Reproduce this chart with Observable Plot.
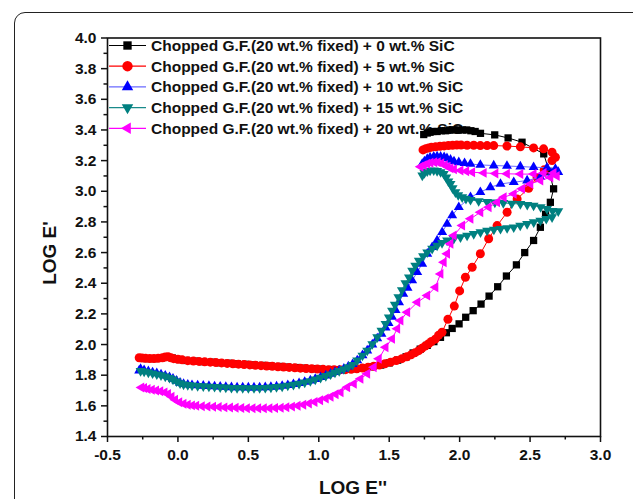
<!DOCTYPE html>
<html>
<head>
<meta charset="utf-8">
<script src="https://cdn.jsdelivr.net/npm/d3@7"></script>
<script src="https://cdn.jsdelivr.net/npm/@observablehq/plot@0.6"></script>
<style>
  body { margin: 0; background: #fff; }
  #wrap { position: relative; width: 633px; height: 499px; overflow: hidden; background: #fff;
          font-family: "Liberation Sans", Arial, sans-serif; }
  #box { position: absolute; left: 14px; top: 12px; width: 700px; height: 600px;
         border: 1.8px solid #222; border-radius: 11px; box-sizing: border-box; }
  #legend, #chart { position: absolute; left: 0; top: 0; }
  .ttl { position: absolute; font-weight: bold; font-size: 19px; color: #111; white-space: nowrap; }
</style>
</head>
<body>
<div id="wrap">
  <div id="box"></div>
  <div id="legend"></div>
  <div id="chart"></div>
  <div class="ttl" id="xt" style="left:353px; top:488px; transform:translate(-50%,-50%);">LOG E''</div>
  <div class="ttl" id="yt" style="left:50px; top:253px; transform:translate(-50%,-50%) rotate(-90deg);">LOG E'</div>
</div>
<script>
// ---------- data (LOG E'' , LOG E') ----------
const seriesNames = [
  "Chopped G.F.(20 wt.% fixed) + 0 wt.% SiC",
  "Chopped G.F.(20 wt.% fixed) + 5 wt.% SiC",
  "Chopped G.F.(20 wt.% fixed) + 10 wt.% SiC",
  "Chopped G.F.(20 wt.% fixed) + 15 wt.% SiC",
  "Chopped G.F.(20 wt.% fixed) + 20 wt.% SiC"
];
const seriesColors = ["#000000", "#ff0000", "#0000ff", "#008080", "#ff00ff"];
const lineColors = ["#000000", "#ff0000", "#6a6aff", "#1a8a8a", "#ff00ff"];

const sic0 = [[1.745,3.37],[1.77,3.38],[1.79,3.385],[1.81,3.39],[1.84,3.39],[1.87,3.395],[1.90,3.395],[1.93,3.40],[1.96,3.40],[1.99,3.40],[2.02,3.40],[2.05,3.40],[2.08,3.395],[2.11,3.39],[2.148,3.378],[2.249,3.368],[2.344,3.348],[2.443,3.32],[2.597,3.244],[2.635,3.13],[2.667,3.016],[2.644,2.928],[2.61,2.85],[2.573,2.765],[2.525,2.679],[2.462,2.60],[2.403,2.52],[2.332,2.447],[2.27,2.377],[2.209,2.316],[2.152,2.264],[2.096,2.221],[2.043,2.178],[1.996,2.135],[1.947,2.105],[1.906,2.077],[1.864,2.047],[1.817,2.019],[1.77,1.995],[1.72,1.97],[1.67,1.945],[1.62,1.92],[1.56,1.898],[1.50,1.88],[1.44,1.866],[1.38,1.855],[1.32,1.848],[1.26,1.842],[1.20,1.838],[1.14,1.836],[1.08,1.837],[1.02,1.84],[0.96,1.843],[0.90,1.846],[0.84,1.85],[0.78,1.853],[0.72,1.857],[0.66,1.86],[0.60,1.864],[0.54,1.867],[0.48,1.871],[0.42,1.874],[0.36,1.878],[0.30,1.881],[0.24,1.885],[0.18,1.888],[0.12,1.892],[0.06,1.896],[0.01,1.902],[-0.04,1.912],[-0.08,1.92],[-0.12,1.912],[-0.17,1.908],[-0.22,1.908],[-0.26,1.91]];

const sic5 = [[1.74,3.27],[1.76,3.278],[1.78,3.283],[1.80,3.288],[1.83,3.29],[1.86,3.293],[1.89,3.296],[1.92,3.298],[1.95,3.30],[1.98,3.302],[2.01,3.302],[2.053,3.30],[2.10,3.30],[2.147,3.298],[2.195,3.298],[2.242,3.298],[2.336,3.295],[2.431,3.29],[2.525,3.283],[2.596,3.277],[2.656,3.255],[2.68,3.222],[2.656,3.20],[2.60,3.14],[2.55,3.09],[2.49,3.02],[2.408,2.95],[2.337,2.863],[2.266,2.776],[2.206,2.69],[2.147,2.592],[2.089,2.504],[2.041,2.439],[2.0,2.35],[1.962,2.251],[1.917,2.165],[1.875,2.08],[1.85,2.06],[1.827,2.035],[1.80,2.02],[1.78,2.005],[1.755,1.99],[1.732,1.975],[1.71,1.96],[1.684,1.947],[1.655,1.933],[1.625,1.92],[1.59,1.908],[1.55,1.896],[1.51,1.885],[1.47,1.875],[1.43,1.866],[1.39,1.858],[1.35,1.852],[1.31,1.847],[1.27,1.842],[1.23,1.838],[1.19,1.836],[1.15,1.835],[1.11,1.835],[1.07,1.836],[1.03,1.838],[0.99,1.84],[0.95,1.842],[0.91,1.844],[0.87,1.846],[0.83,1.848],[0.79,1.851],[0.75,1.853],[0.71,1.855],[0.67,1.858],[0.63,1.86],[0.59,1.862],[0.55,1.865],[0.51,1.867],[0.47,1.87],[0.43,1.872],[0.39,1.875],[0.35,1.877],[0.31,1.88],[0.27,1.882],[0.23,1.885],[0.19,1.887],[0.15,1.89],[0.11,1.892],[0.07,1.895],[0.03,1.90],[0.0,1.904],[-0.03,1.908],[-0.05,1.914],[-0.07,1.921],[-0.09,1.918],[-0.11,1.913],[-0.14,1.91],[-0.17,1.909],[-0.20,1.909],[-0.23,1.91],[-0.255,1.912],[-0.275,1.914]];

const sic10 = [[1.734,3.178],[1.75,3.195],[1.77,3.21],[1.79,3.22],[1.816,3.225],[1.84,3.227],[1.865,3.225],[1.89,3.222],[1.91,3.215],[1.935,3.205],[1.96,3.195],[1.994,3.189],[2.035,3.183],[2.077,3.178],[2.147,3.172],[2.242,3.168],[2.336,3.165],[2.431,3.161],[2.525,3.157],[2.62,3.154],[2.68,3.146],[2.70,3.125],[2.656,3.114],[2.573,3.092],[2.479,3.07],[2.384,3.059],[2.29,3.048],[2.218,3.026],[2.147,2.994],[2.077,2.961],[1.994,2.896],[1.947,2.842],[1.911,2.787],[1.876,2.733],[1.84,2.679],[1.805,2.635],[1.77,2.592],[1.734,2.527],[1.699,2.472],[1.663,2.418],[1.63,2.37],[1.60,2.33],[1.57,2.275],[1.545,2.225],[1.52,2.18],[1.495,2.14],[1.474,2.11],[1.445,2.07],[1.415,2.04],[1.38,2.0],[1.344,1.961],[1.31,1.93],[1.273,1.896],[1.24,1.872],[1.21,1.856],[1.178,1.842],[1.145,1.83],[1.115,1.82],[1.084,1.809],[1.05,1.798],[1.013,1.787],[0.975,1.775],[0.94,1.765],[0.90,1.756],[0.86,1.748],[0.82,1.741],[0.78,1.735],[0.74,1.73],[0.70,1.726],[0.66,1.723],[0.62,1.721],[0.58,1.72],[0.54,1.719],[0.50,1.719],[0.46,1.72],[0.42,1.72],[0.38,1.721],[0.34,1.723],[0.30,1.725],[0.26,1.727],[0.22,1.729],[0.18,1.731],[0.14,1.733],[0.10,1.735],[0.07,1.738],[0.04,1.742],[0.015,1.75],[-0.01,1.763],[-0.035,1.776],[-0.06,1.787],[-0.09,1.797],[-0.12,1.805],[-0.15,1.812],[-0.18,1.818],[-0.21,1.825],[-0.24,1.832],[-0.265,1.84],[-0.275,1.83]];

const sic15 = [[1.735,3.103],[1.75,3.12],[1.77,3.13],[1.79,3.135],[1.816,3.137],[1.84,3.133],[1.865,3.125],[1.887,3.114],[1.905,3.09],[1.92,3.065],[1.935,3.048],[1.95,3.02],[1.97,2.994],[1.99,2.975],[2.018,2.961],[2.045,2.952],[2.077,2.944],[2.135,2.936],[2.195,2.93],[2.25,2.927],[2.31,2.924],[2.37,2.92],[2.431,2.917],[2.48,2.912],[2.525,2.907],[2.575,2.897],[2.62,2.885],[2.66,2.872],[2.70,2.87],[2.656,2.831],[2.615,2.82],[2.573,2.809],[2.526,2.798],[2.479,2.787],[2.43,2.776],[2.384,2.765],[2.337,2.76],[2.29,2.755],[2.243,2.75],[2.195,2.744],[2.148,2.733],[2.10,2.722],[2.053,2.711],[2.006,2.70],[1.958,2.69],[1.911,2.679],[1.875,2.663],[1.84,2.646],[1.805,2.625],[1.77,2.602],[1.74,2.577],[1.71,2.548],[1.685,2.515],[1.663,2.483],[1.64,2.439],[1.615,2.40],[1.59,2.355],[1.565,2.31],[1.54,2.26],[1.52,2.222],[1.497,2.178],[1.474,2.135],[1.445,2.09],[1.415,2.048],[1.38,2.003],[1.344,1.961],[1.31,1.928],[1.273,1.896],[1.24,1.868],[1.21,1.853],[1.178,1.84],[1.145,1.828],[1.115,1.817],[1.084,1.806],[1.05,1.795],[1.013,1.784],[0.975,1.772],[0.94,1.762],[0.90,1.753],[0.86,1.745],[0.82,1.738],[0.78,1.732],[0.74,1.727],[0.70,1.723],[0.66,1.72],[0.62,1.718],[0.58,1.717],[0.54,1.716],[0.50,1.716],[0.46,1.717],[0.42,1.717],[0.38,1.718],[0.34,1.72],[0.30,1.722],[0.26,1.724],[0.22,1.726],[0.18,1.728],[0.14,1.73],[0.10,1.733],[0.07,1.736],[0.04,1.74],[0.015,1.748],[-0.01,1.76],[-0.035,1.772],[-0.06,1.783],[-0.09,1.792],[-0.12,1.80],[-0.15,1.806],[-0.18,1.812],[-0.21,1.818],[-0.24,1.824],[-0.265,1.828]];

const sic20 = [[1.722,3.16],[1.745,3.17],[1.77,3.18],[1.793,3.186],[1.82,3.19],[1.845,3.19],[1.87,3.183],[1.895,3.172],[1.915,3.16],[1.935,3.15],[1.96,3.143],[2.006,3.135],[2.047,3.13],[2.089,3.124],[2.171,3.12],[2.254,3.116],[2.336,3.114],[2.431,3.112],[2.525,3.112],[2.596,3.12],[2.667,3.12],[2.69,3.10],[2.644,3.09],[2.573,3.07],[2.502,3.048],[2.443,3.016],[2.384,2.983],[2.313,2.961],[2.266,2.928],[2.206,2.896],[2.147,2.863],[2.077,2.82],[2.018,2.776],[1.958,2.711],[1.935,2.657],[1.911,2.592],[1.887,2.537],[1.864,2.461],[1.828,2.374],[1.77,2.32],[1.70,2.276],[1.628,2.211],[1.58,2.157],[1.557,2.103],[1.52,2.037],[1.474,1.982],[1.426,1.907],[1.39,1.852],[1.344,1.809],[1.296,1.776],[1.249,1.744],[1.202,1.722],[1.155,1.689],[1.12,1.675],[1.084,1.66],[1.05,1.648],[1.01,1.636],[0.97,1.625],[0.93,1.615],[0.89,1.607],[0.85,1.60],[0.81,1.595],[0.77,1.591],[0.73,1.588],[0.69,1.586],[0.65,1.585],[0.61,1.584],[0.57,1.584],[0.53,1.584],[0.49,1.585],[0.45,1.586],[0.41,1.587],[0.37,1.589],[0.33,1.59],[0.29,1.592],[0.25,1.594],[0.21,1.596],[0.17,1.598],[0.13,1.60],[0.10,1.603],[0.07,1.607],[0.04,1.614],[0.01,1.624],[-0.02,1.64],[-0.045,1.66],[-0.07,1.677],[-0.095,1.688],[-0.125,1.695],[-0.155,1.70],[-0.185,1.705],[-0.215,1.71],[-0.24,1.716],[-0.26,1.72]];

const xTicks = [-0.5, 0.0, 0.5, 1.0, 1.5, 2.0, 2.5, 3.0];
const xTickLabels = ["-0.5", "0.0", "0.5", "1.0", "1.5", "2.0", "2.5", "3.0"];
const xMinor = [-0.25, 0.25, 0.75, 1.25, 1.75, 2.25, 2.75];
const yTicks = [1.4, 1.6, 1.8, 2.0, 2.2, 2.4, 2.6, 2.8, 3.0, 3.2, 3.4, 3.6, 3.8, 4.0];
const yTickLabels = ["1.4", "1.6", "1.8", "2.0", "2.2", "2.4", "2.6", "2.8", "3.0", "3.2", "3.4", "3.6", "3.8", "4.0"];
const yMinor = [1.5, 1.7, 1.9, 2.1, 2.3, 2.5, 2.7, 2.9, 3.1, 3.3, 3.5, 3.7, 3.9];

// ---------- symbols ----------
const sqrt3 = Math.sqrt(3);
const triangleDown = { draw(ctx, size) {
  const y = -Math.sqrt(size / (sqrt3 * 3));
  ctx.moveTo(0, -y * 2); ctx.lineTo(-sqrt3 * y, y); ctx.lineTo(sqrt3 * y, y); ctx.closePath();
}};
const triangleLeft = { draw(ctx, size) {
  const y = -Math.sqrt(size / (sqrt3 * 3));
  ctx.moveTo(y * 2, 0); ctx.lineTo(-y, -sqrt3 * y); ctx.lineTo(-y, sqrt3 * y); ctx.closePath();
}};
const symbols = ["square", "circle", "triangle", triangleDown, triangleLeft];
const d3Symbols = [d3.symbolSquare, d3.symbolCircle, d3.symbolTriangle, triangleDown, triangleLeft];
const radii = [4.1, 4.5, 3.7, 3.7, 3.7];

const allSeries = [sic0, sic5, sic10, sic15, sic20];
const tables = allSeries.map(s => s.map(([x, y]) => ({x, y})));

const font = "'Liberation Sans', Arial, sans-serif";

const marks = [];
tables.forEach((t, i) => {
  marks.push(Plot.line(t, {x: "x", y: "y", stroke: lineColors[i], strokeWidth: 1}));
  marks.push(Plot.dot(t, {x: "x", y: "y", symbol: symbols[i], r: radii[i], fill: seriesColors[i], stroke: "none"}));
});

const chart = Plot.plot({
  width: 633, height: 499,
  marginLeft: 107, marginRight: 33, marginTop: 37.5, marginBottom: 63,
  x: {domain: [-0.5, 3.0]},
  y: {domain: [1.4, 4.0]},
  style: {background: "transparent", fontFamily: font, overflow: "visible", color: "#111"},
  marks: [
    ...marks,
    Plot.axisX({ticks: xTicks, tickSize: 6, tickPadding: 6, tickFormat: (d, i) => xTickLabels[i],
                fontSize: 15.5, fontWeight: "bold", label: null, strokeWidth: 1.5}),
    Plot.axisX({ticks: xMinor, tickSize: 3.5, tickFormat: () => "", label: null, strokeWidth: 1.5}),
    Plot.axisY({ticks: yTicks, tickSize: 6, tickPadding: 5, tickFormat: (d, i) => yTickLabels[i],
                fontSize: 15.5, fontWeight: "bold", label: null, strokeWidth: 1.5}),
    Plot.axisY({ticks: yMinor, tickSize: 3.5, tickFormat: () => "", label: null, strokeWidth: 1.5}),
    Plot.frame({stroke: "#111", strokeWidth: 1.6})
  ]
});
document.getElementById("chart").appendChild(chart);

// ---------- legend (drawn beneath the data, as in the original) ----------
const lg = d3.select("#legend").append("svg").attr("width", 633).attr("height", 499);
seriesNames.forEach((name, i) => {
  const y = 45.5 + i * 20.7;
  lg.append("line").attr("x1", 109).attr("x2", 146).attr("y1", y).attr("y2", y)
    .attr("stroke", lineColors[i]).attr("stroke-width", 1.2);
  const r = radii[i] * 1.15;
  lg.append("path").attr("transform", `translate(127.5,${y})`)
    .attr("d", d3.symbol(d3Symbols[i], Math.PI * r * r)()).attr("fill", seriesColors[i]);
  lg.append("text").attr("x", 151).attr("y", y + 5.5)
    .attr("font-family", font).attr("font-weight", "bold").attr("font-size", 15.5)
    .attr("fill", "#111").text(name);
});
</script>
</body>
</html>
